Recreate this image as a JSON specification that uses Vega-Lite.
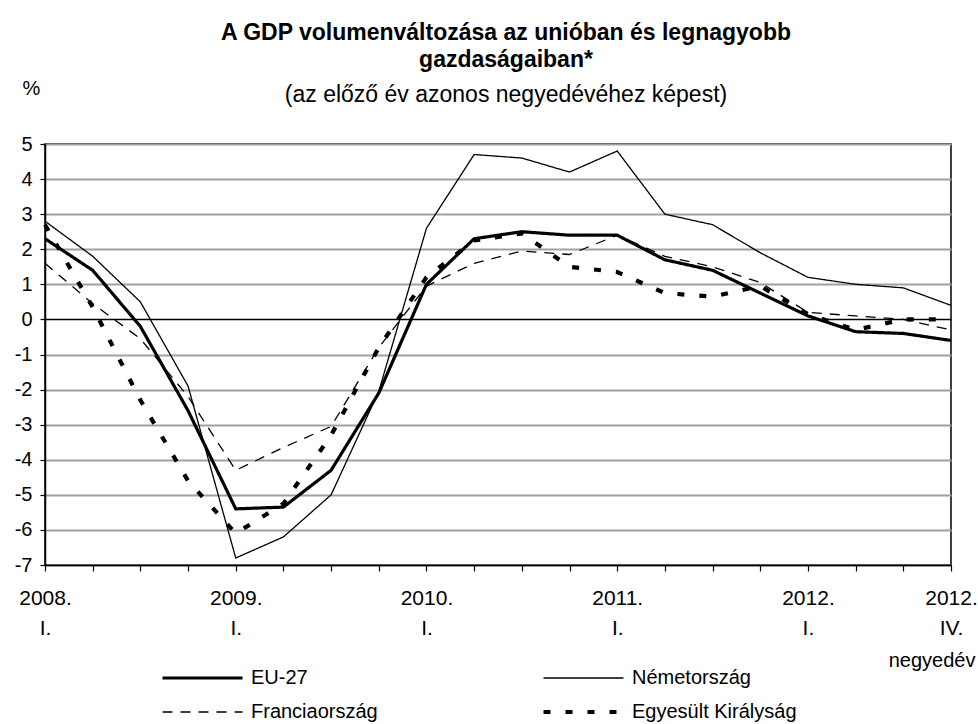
{
  "$schema": "https://vega.github.io/schema/vega-lite/v6.json",
  "width": 906,
  "height": 421,
  "autosize": {"type": "none"},
  "padding": {"left": 45, "top": 144, "right": 27, "bottom": 159},
  "background": "white",
  "title": {
    "text": ["A GDP volumenváltozása az unióban és legnagyobb", "gazdaságaiban*"],
    "subtitle": "(az előző év azonos negyedévéhez képest)",
    "anchor": "middle",
    "frame": "group",
    "dx": 8,
    "offset": -29,
    "font": "Liberation Sans",
    "fontSize": 23,
    "fontWeight": "bold",
    "lineHeight": 27,
    "color": "black",
    "subtitleFont": "Liberation Sans",
    "subtitleFontSize": 23,
    "subtitleColor": "black",
    "subtitlePadding": 12
  },
  "data": {
    "values": [
      {"quarter": "2008 I.", "country": "EU-27", "value": 2.3},
      {"quarter": "2008 II.", "country": "EU-27", "value": 1.4},
      {"quarter": "2008 III.", "country": "EU-27", "value": -0.2},
      {"quarter": "2008 IV.", "country": "EU-27", "value": -2.6},
      {"quarter": "2009 I.", "country": "EU-27", "value": -5.4},
      {"quarter": "2009 II.", "country": "EU-27", "value": -5.35},
      {"quarter": "2009 III.", "country": "EU-27", "value": -4.3},
      {"quarter": "2009 IV.", "country": "EU-27", "value": -2.1},
      {"quarter": "2010 I.", "country": "EU-27", "value": 1.0},
      {"quarter": "2010 II.", "country": "EU-27", "value": 2.3},
      {"quarter": "2010 III.", "country": "EU-27", "value": 2.5},
      {"quarter": "2010 IV.", "country": "EU-27", "value": 2.4},
      {"quarter": "2011 I.", "country": "EU-27", "value": 2.4},
      {"quarter": "2011 II.", "country": "EU-27", "value": 1.7},
      {"quarter": "2011 III.", "country": "EU-27", "value": 1.4},
      {"quarter": "2011 IV.", "country": "EU-27", "value": 0.75},
      {"quarter": "2012 I.", "country": "EU-27", "value": 0.1},
      {"quarter": "2012 II.", "country": "EU-27", "value": -0.35},
      {"quarter": "2012 III.", "country": "EU-27", "value": -0.4},
      {"quarter": "2012 IV.", "country": "EU-27", "value": -0.6},

      {"quarter": "2008 I.", "country": "Németország", "value": 2.8},
      {"quarter": "2008 II.", "country": "Németország", "value": 1.8},
      {"quarter": "2008 III.", "country": "Németország", "value": 0.5},
      {"quarter": "2008 IV.", "country": "Németország", "value": -1.9},
      {"quarter": "2009 I.", "country": "Németország", "value": -6.8},
      {"quarter": "2009 II.", "country": "Németország", "value": -6.2},
      {"quarter": "2009 III.", "country": "Németország", "value": -5.0},
      {"quarter": "2009 IV.", "country": "Németország", "value": -2.05},
      {"quarter": "2010 I.", "country": "Németország", "value": 2.6},
      {"quarter": "2010 II.", "country": "Németország", "value": 4.7},
      {"quarter": "2010 III.", "country": "Németország", "value": 4.6},
      {"quarter": "2010 IV.", "country": "Németország", "value": 4.2},
      {"quarter": "2011 I.", "country": "Németország", "value": 4.8},
      {"quarter": "2011 II.", "country": "Németország", "value": 3.0},
      {"quarter": "2011 III.", "country": "Németország", "value": 2.7},
      {"quarter": "2011 IV.", "country": "Németország", "value": 1.9},
      {"quarter": "2012 I.", "country": "Németország", "value": 1.2},
      {"quarter": "2012 II.", "country": "Németország", "value": 1.0},
      {"quarter": "2012 III.", "country": "Németország", "value": 0.9},
      {"quarter": "2012 IV.", "country": "Németország", "value": 0.4},

      {"quarter": "2008 I.", "country": "Franciaország", "value": 1.6},
      {"quarter": "2008 II.", "country": "Franciaország", "value": 0.45},
      {"quarter": "2008 III.", "country": "Franciaország", "value": -0.55},
      {"quarter": "2008 IV.", "country": "Franciaország", "value": -2.2},
      {"quarter": "2009 I.", "country": "Franciaország", "value": -4.3},
      {"quarter": "2009 II.", "country": "Franciaország", "value": -3.65},
      {"quarter": "2009 III.", "country": "Franciaország", "value": -3.05},
      {"quarter": "2009 IV.", "country": "Franciaország", "value": -0.8},
      {"quarter": "2010 I.", "country": "Franciaország", "value": 0.95},
      {"quarter": "2010 II.", "country": "Franciaország", "value": 1.6},
      {"quarter": "2010 III.", "country": "Franciaország", "value": 1.95},
      {"quarter": "2010 IV.", "country": "Franciaország", "value": 1.85},
      {"quarter": "2011 I.", "country": "Franciaország", "value": 2.4},
      {"quarter": "2011 II.", "country": "Franciaország", "value": 1.8},
      {"quarter": "2011 III.", "country": "Franciaország", "value": 1.5},
      {"quarter": "2011 IV.", "country": "Franciaország", "value": 1.05},
      {"quarter": "2012 I.", "country": "Franciaország", "value": 0.2},
      {"quarter": "2012 II.", "country": "Franciaország", "value": 0.1},
      {"quarter": "2012 III.", "country": "Franciaország", "value": 0.0},
      {"quarter": "2012 IV.", "country": "Franciaország", "value": -0.3},

      {"quarter": "2008 I.", "country": "Egyesült Királyság", "value": 2.7},
      {"quarter": "2008 II.", "country": "Egyesült Királyság", "value": 0.35},
      {"quarter": "2008 III.", "country": "Egyesült Királyság", "value": -2.3},
      {"quarter": "2008 IV.", "country": "Egyesült Királyság", "value": -4.6},
      {"quarter": "2009 I.", "country": "Egyesült Királyság", "value": -6.1},
      {"quarter": "2009 II.", "country": "Egyesült Királyság", "value": -5.25},
      {"quarter": "2009 III.", "country": "Egyesült Királyság", "value": -3.3},
      {"quarter": "2009 IV.", "country": "Egyesült Királyság", "value": -0.8},
      {"quarter": "2010 I.", "country": "Egyesült Királyság", "value": 1.2},
      {"quarter": "2010 II.", "country": "Egyesült Királyság", "value": 2.25},
      {"quarter": "2010 III.", "country": "Egyesült Királyság", "value": 2.45},
      {"quarter": "2010 IV.", "country": "Egyesült Királyság", "value": 1.5},
      {"quarter": "2011 I.", "country": "Egyesült Királyság", "value": 1.35},
      {"quarter": "2011 II.", "country": "Egyesült Királyság", "value": 0.75},
      {"quarter": "2011 III.", "country": "Egyesült Királyság", "value": 0.65},
      {"quarter": "2011 IV.", "country": "Egyesült Királyság", "value": 0.95},
      {"quarter": "2012 I.", "country": "Egyesült Királyság", "value": 0.15},
      {"quarter": "2012 II.", "country": "Egyesült Királyság", "value": -0.3},
      {"quarter": "2012 III.", "country": "Egyesült Királyság", "value": 0.0},
      {"quarter": "2012 IV.", "country": "Egyesült Királyság", "value": 0.0}
    ]
  },
  "mark": {"type": "line", "color": "black", "strokeCap": "butt", "strokeJoin": "miter"},
  "encoding": {
    "x": {
      "field": "quarter",
      "type": "ordinal",
      "sort": null,
      "scale": {"type": "point", "padding": 0},
      "axis": {
        "title": "negyedév",
        "titleX": 930,
        "titleY": 95,
        "titleAlign": "right",
        "titleBaseline": "middle",
        "titleAnchor": null,
        "titleFont": "Liberation Sans",
        "titleFontSize": 20,
        "titleFontWeight": "normal",
        "titleColor": "black",
        "labelAngle": 0,
        "labelAlign": "center",
        "labelBaseline": "top",
        "labelPadding": 16,
        "labelFontSize": 21,
        "labelLineHeight": 30,
        "labelOverlap": false,
        "labelExpr": "slice(datum.value, 5) == 'I.' ? [slice(datum.value, 0, 4) + '.', 'I.'] : (datum.value == '2012 IV.' ? ['2012.', 'IV.'] : '')",
        "tickSize": 6,
        "grid": false
      }
    },
    "y": {
      "field": "value",
      "type": "quantitative",
      "scale": {"domain": [-7, 5], "nice": false, "zero": false},
      "axis": {
        "values": [-7, -6, -5, -4, -3, -2, -1, 0, 1, 2, 3, 4, 5],
        "labelExpr": "'' + datum.value",
        "labelOverlap": false,
        "labelFontSize": 20,
        "title": "%",
        "titleAngle": 0,
        "titleX": -14,
        "titleY": -50,
        "titleAlign": "center",
        "titleBaseline": "alphabetic",
        "titleAnchor": null,
        "titleFont": "Liberation Sans",
        "titleFontSize": 20,
        "titleFontWeight": "normal",
        "titleColor": "black",
        "tickSize": 5,
        "labelPadding": 8,
        "grid": true,
        "gridColor": {"condition": {"test": "datum.value === 0", "value": "black"}, "value": "#a0a0a0"},
        "gridWidth": {"condition": {"test": "datum.value === 0", "value": 1.6}, "value": 1.8}
      }
    },
    "strokeDash": {
      "field": "country",
      "type": "nominal",
      "scale": {
        "domain": ["EU-27", "Németország", "Franciaország", "Egyesült Királyság"],
        "range": [[1, 0], [1, 0], [10, 8], [7, 15]]
      },
      "legend": {"title": null}
    },
    "strokeWidth": {
      "field": "country",
      "type": "nominal",
      "scale": {
        "type": "ordinal",
        "domain": ["EU-27", "Németország", "Franciaország", "Egyesült Királyság"],
        "range": [3.2, 1.3, 1.3, 4.2]
      },
      "legend": {"title": null}
    }
  },
  "config": {
    "view": {"stroke": "black", "strokeWidth": 1.5},
    "axis": {
      "domainColor": "black",
      "domainWidth": 1.5,
      "tickColor": "black",
      "tickWidth": 1.2,
      "labelFont": "Liberation Sans",
      "labelFontSize": 20,
      "labelColor": "black"
    },
    "axisY": {"labelOverlap": false, "labelFontSize": 20},
    "legend": {
      "orient": "none",
      "legendX": 115,
      "legendY": 524,
      "columns": 2,
      "direction": "horizontal",
      "symbolType": "stroke",
      "symbolSize": 6400,
      "symbolStrokeColor": "black",
      "clipHeight": 20,
      "rowPadding": 14,
      "columnPadding": 163,
      "labelOffset": 6,
      "labelLimit": 300,
      "labelFont": "Liberation Sans",
      "labelFontSize": 20,
      "labelColor": "black",
      "padding": 0
    }
  }
}
